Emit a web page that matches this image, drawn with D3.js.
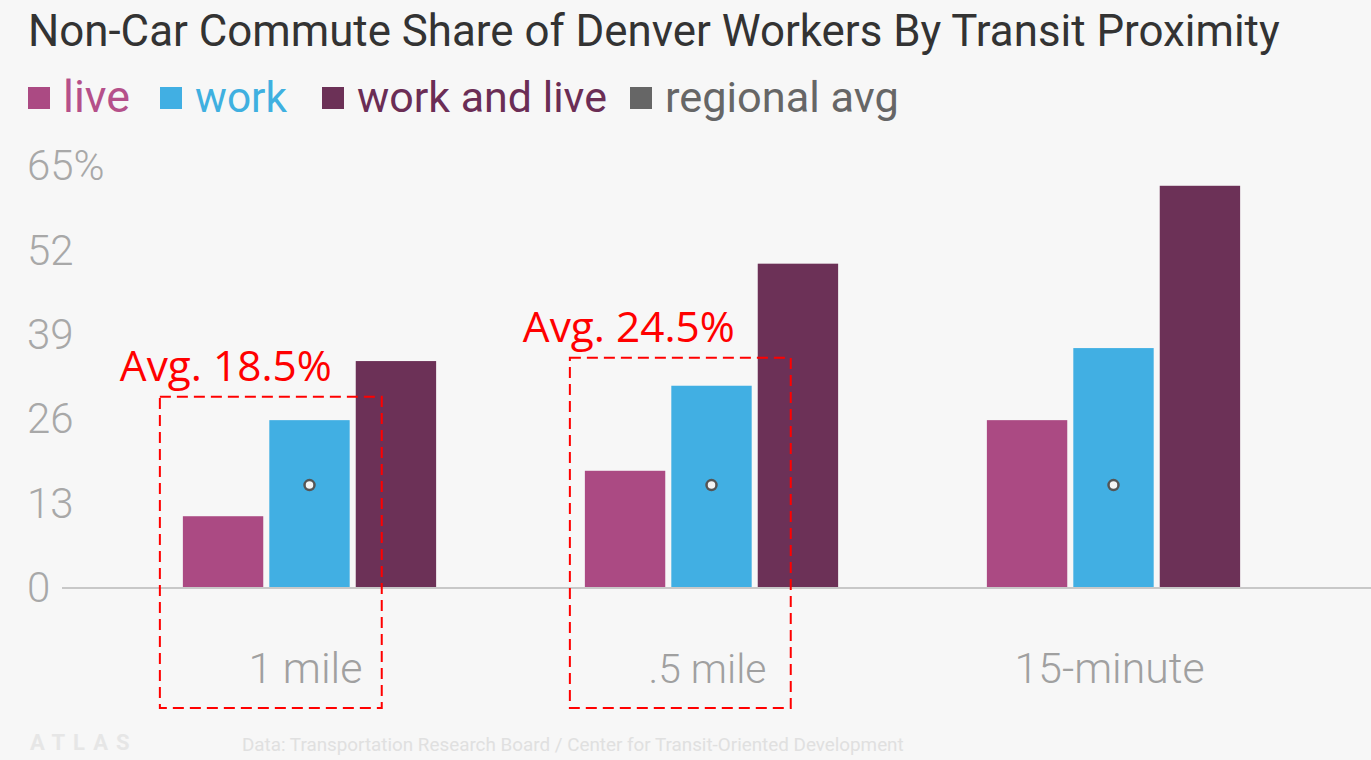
<!DOCTYPE html>
<html>
<head>
<meta charset="utf-8">
<script src="https://cdn.jsdelivr.net/npm/d3@7"></script>
<style>
  html, body { margin: 0; padding: 0; background: #f7f7f7; }
  svg { display: block; }
</style>
</head>
<body>
<svg id="chart"></svg>
<script>
// chart values
const groups = ["1 mile", ".5 mile", "15-minute"];
const series = ["live", "work", "work and live"];
const liveVals = [10.9, 17.9, 25.7];
const workVals = [25.7, 31.0, 36.8];
const bothVals = [34.8, 49.8, 61.8];
const regionalAvg = [15.7, 15.7, 15.7];
const yTicks = [0, 13, 26, 39, 52, 65];
const legendLabels = ["live", "work", "work and live", "regional avg"];
// red call-outs: group, label, box top (in % units)
const callouts = [
  {group: "1 mile", label: "Avg. 18.5%", top: 29.3},
  {group: ".5 mile", label: "Avg. 24.5%", top: 35.3}
];

const W = 1371, H = 760;
const colors = {"live": "#ab4a83", "work": "#41afe3", "work and live": "#6c3157", "regional avg": "#666666"};
const textColors = {"live": "#b5508a", "work": "#3fb0e0", "work and live": "#6b2d55", "regional avg": "#666666"};

const svg = d3.select("#chart").attr("width", W).attr("height", H);
svg.append("rect").attr("width", W).attr("height", H).attr("fill", "#f7f7f7");

// shrink/grow font size so a text fits a target width
function fitWidth(sel, target) {
  const fs = parseFloat(sel.attr("font-size"));
  const w = sel.node().getComputedTextLength();
  if (w > 0) sel.attr("font-size", fs * target / w);
}

// title
const title = svg.append("text")
    .attr("x", 28).attr("y", 46)
    .attr("font-family", "Roboto, sans-serif")
    .attr("font-size", 40)
    .attr("fill", "#333")
    .text("Non-Car Commute Share of Denver Workers By Transit Proximity");
fitWidth(title, 1252);

// legend
const legendX = [28, 160, 322, 630];
const legendW = [67, 92, 250, 234];
const legend = svg.append("g");
legendLabels.forEach((s, i) => {
  legend.append("rect")
      .attr("x", legendX[i]).attr("y", 87)
      .attr("width", 22).attr("height", 22)
      .attr("fill", colors[s]);
  const t = legend.append("text")
      .attr("x", legendX[i] + 35).attr("y", 112)
      .attr("font-family", "Roboto, sans-serif")
      .attr("font-size", 40)
      .attr("fill", textColors[s])
      .text(s);
  fitWidth(t, legendW[i]);
});

// scales
const x = d3.scaleBand().domain(groups).range([108.5, 1314.5]).paddingInner(0.37).paddingOuter(0.185);
const xs = d3.scaleBand().domain(series).range([0, x.bandwidth()]).paddingInner(0.07);
const y = d3.scaleLinear().domain([0, 65]).range([587, 165]);

// y tick labels
svg.append("g").selectAll("text")
  .data(yTicks)
  .join("text")
    .attr("x", 27)
    .attr("y", d => y(d))
    .attr("dy", "0.36em")
    .attr("font-family", "Roboto, sans-serif")
    .attr("font-size", 42)
    .attr("font-weight", 300)
    .attr("fill", "#a8a8a8")
    .text(d => d === 65 ? d + "%" : d);

// bars
const table = groups.map((g, i) => ({
  group: g,
  values: [
    {key: "live", value: liveVals[i]},
    {key: "work", value: workVals[i]},
    {key: "work and live", value: bothVals[i]}
  ]
}));

const gGroups = svg.append("g").selectAll("g")
  .data(table)
  .join("g")
    .attr("transform", d => `translate(${x(d.group)},0)`);

gGroups.selectAll("rect")
  .data(d => d.values)
  .join("rect")
    .attr("x", d => xs(d.key))
    .attr("y", d => y(d.value))
    .attr("width", xs.bandwidth())
    .attr("height", d => y(0) - y(d.value))
    .attr("fill", d => colors[d.key]);

// baseline
svg.append("line")
    .attr("x1", 62).attr("x2", W)
    .attr("y1", y(0) + 1).attr("y2", y(0) + 1)
    .attr("stroke", "#c8c8c8").attr("stroke-width", 2);

// regional average markers
svg.append("g").selectAll("circle")
  .data(groups)
  .join("circle")
    .attr("cx", (g) => x(g) + xs("work") + xs.bandwidth() / 2)
    .attr("cy", (g, i) => y(regionalAvg[i]))
    .attr("r", 5)
    .attr("fill", "#f4f4f4")
    .attr("stroke", "#555")
    .attr("stroke-width", 2.5);

// x labels
const xLabelW = [114, 118, 190];
svg.append("g").selectAll("text")
  .data(groups)
  .join("text")
    .attr("x", g => x(g) + x.bandwidth() / 2 - 4)
    .attr("y", 683)
    .attr("text-anchor", "middle")
    .attr("font-family", "Roboto, sans-serif")
    .attr("font-size", 42)
    .attr("font-weight", 300)
    .attr("fill", "#a0a0a0")
    .text(g => g)
    .each(function(g, i) { fitWidth(d3.select(this), xLabelW[i]); });

// footer (faint)
svg.append("text")
    .attr("x", 30).attr("y", 750)
    .attr("font-family", "Roboto, sans-serif")
    .attr("font-size", 22).attr("font-weight", 700)
    .attr("letter-spacing", 8)
    .attr("fill", "#e6e6e6")
    .text("ATLAS");
const src = svg.append("text")
    .attr("x", 242).attr("y", 751)
    .attr("font-family", "Roboto, sans-serif")
    .attr("font-size", 18)
    .attr("fill", "#e0e0e0")
    .text("Data: Transportation Research Board / Center for Transit-Oriented Development");
fitWidth(src, 662);

// red dashed call-outs (offsets from the group's band edges)
const calloutLeft = [-23, -15];
const calloutRight = [26, 33];
const calloutTextDx = [-40, -47];
const ann = svg.append("g");
callouts.forEach((c, i) => {
  const x0 = x(c.group) + calloutLeft[i];
  const x1 = x(c.group) + xs("work and live") + calloutRight[i];
  ann.append("rect")
      .attr("x", x0).attr("y", y(c.top))
      .attr("width", x1 - x0).attr("height", 708 - y(c.top))
      .attr("fill", "none")
      .attr("stroke", "#ff0000")
      .attr("stroke-width", 2)
      .attr("stroke-dasharray", "11,6");
  const t = ann.append("text")
      .attr("x", x0 + calloutTextDx[i]).attr("y", y(c.top) - 16)
      .attr("font-family", "'Open Sans', sans-serif")
      .attr("font-size", 38)
      .attr("fill", "#ff0000")
      .text(c.label);
  fitWidth(t, 212);
});
</script>
</body>
</html>
